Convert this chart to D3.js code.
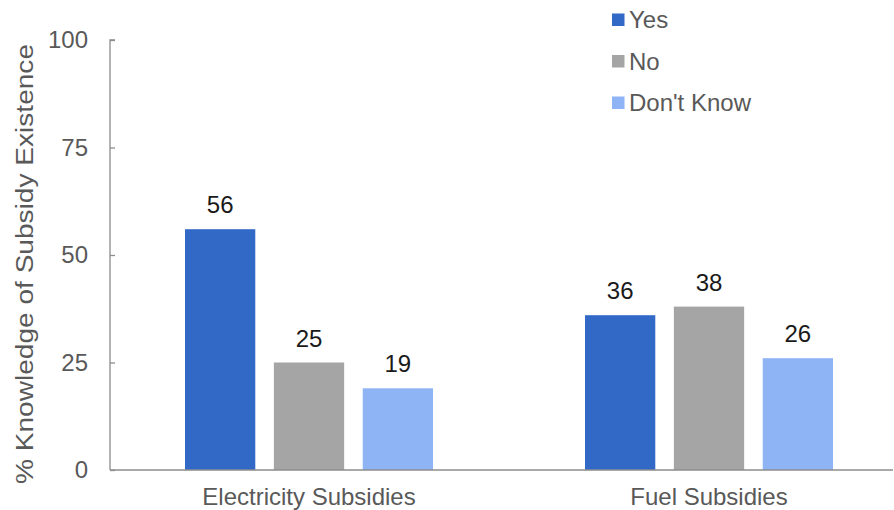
<!DOCTYPE html>
<html>
<head>
<meta charset="utf-8">
<script src="https://cdn.jsdelivr.net/npm/d3@7"></script>
<style>
  html, body { margin: 0; padding: 0; background: #fff; }
  svg { display: block; font-family: "Liberation Sans", Arial, sans-serif; }
</style>
</head>
<body>
<svg id="chart" width="894" height="510"></svg>
<script>
// Survey responses: knowledge of subsidy existence (%)
const categories = ["Electricity Subsidies", "Fuel Subsidies"];
const seriesNames = ["Yes", "No", "Don't Know"];
const yesValues = [56, 36];
const noValues = [25, 38];
const dontKnowValues = [19, 26];
const yTicks = [0, 25, 50, 75, 100];
const colors = ["#3369C6", "#A5A5A5", "#8FB4F6"];

const seriesValues = [yesValues, noValues, dontKnowValues];
const rows = categories.map((c, i) => ({
  category: c,
  values: seriesNames.map((s, j) => ({ series: s, value: seriesValues[j][i], color: colors[j] }))
}));

const svg = d3.select("#chart");
const axisLeft = 110, axisRight = 893, yTop = 40, yBottom = 470;
const fontSize = "24px";

const y = d3.scaleLinear().domain([0, 100]).range([yBottom, yTop]);
const x0 = d3.scaleBand().domain(categories).range([axisLeft - 1, axisLeft + 799]).padding(0);
const groupWidth = 248;
const x1 = d3.scaleBand().domain(seriesNames).range([0, groupWidth]).paddingInner(0.209).paddingOuter(0);

// Y axis with inward ticks
const yAxis = svg.append("g")
  .attr("transform", `translate(${axisLeft},0)`)
  .call(d3.axisLeft(y).tickValues(yTicks).tickSize(-5).tickPadding(22));
yAxis.select(".domain").attr("stroke", "#8c8c8c").attr("stroke-width", 1.3)
  .attr("d", `M5,${yTop}H0V${yBottom}`);
yAxis.selectAll(".tick line").attr("stroke", "#8c8c8c").attr("stroke-width", 1.3);
yAxis.selectAll(".tick text").attr("fill", "#595959").style("font-size", fontSize);

// Bars
const groups = svg.append("g").selectAll("g").data(rows).join("g")
  .attr("transform", d => `translate(${x0(d.category) + x0.bandwidth() / 2 - groupWidth / 2},0)`);

groups.selectAll("rect").data(d => d.values).join("rect")
  .attr("x", d => x1(d.series))
  .attr("y", d => y(d.value))
  .attr("width", x1.bandwidth())
  .attr("height", d => y(0) - y(d.value))
  .attr("fill", d => d.color);

groups.selectAll("text.value").data(d => d.values).join("text")
  .attr("class", "value")
  .attr("x", d => x1(d.series) + x1.bandwidth() / 2)
  .attr("y", d => y(d.value) - 16)
  .attr("text-anchor", "middle")
  .attr("fill", "#1a1a1a")
  .style("font-size", fontSize)
  .text(d => d.value);

// X axis
const xAxis = svg.append("g")
  .attr("transform", `translate(0,${yBottom})`)
  .call(d3.axisBottom(x0).tickSize(0).tickPadding(18));
xAxis.select(".domain").attr("stroke", "#8c8c8c").attr("stroke-width", 1.5)
  .attr("d", `M${axisLeft},0H${axisRight}`);
xAxis.selectAll(".tick text").attr("fill", "#595959").style("font-size", fontSize);

// Y axis title
svg.append("text")
  .attr("transform", `translate(33,264) rotate(-90)`)
  .attr("text-anchor", "middle")
  .attr("fill", "#595959")
  .style("font-size", "23px")
  .attr("textLength", 440)
  .attr("lengthAdjust", "spacingAndGlyphs")
  .text("% Knowledge of Subsidy Existence");

// Legend
const legend = svg.append("g").attr("transform", "translate(612,20)");
const items = legend.selectAll("g").data(seriesNames).join("g")
  .attr("transform", (d, i) => `translate(0,${i * 41.5})`);
items.append("rect").attr("x", 0).attr("y", -6.5).attr("width", 12.5).attr("height", 12.5)
  .attr("fill", (d, i) => colors[i]);
items.append("text").attr("x", 17).attr("y", 0).attr("dy", "0.35em")
  .attr("fill", "#595959").style("font-size", fontSize).text(d => d);
</script>
</body>
</html>
